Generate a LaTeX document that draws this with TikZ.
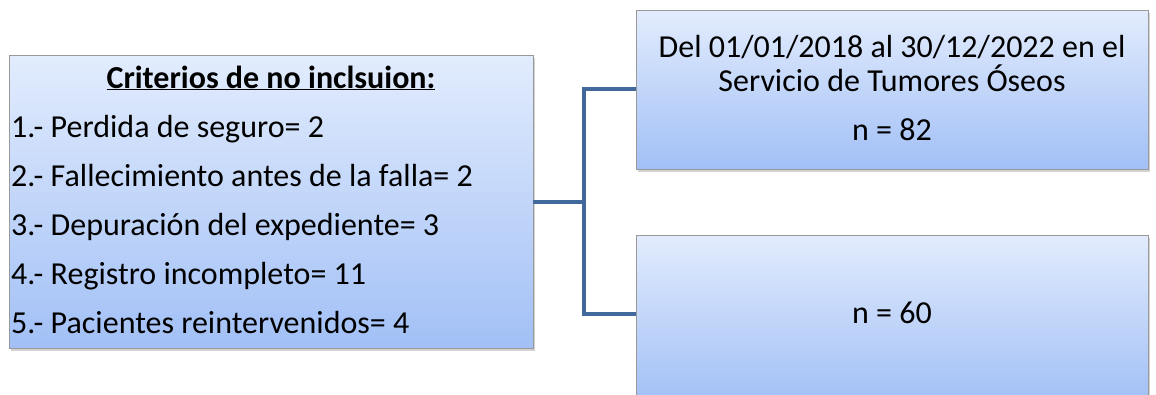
\documentclass[tikz,border=0pt]{standalone}
\usepackage{fontspec}
\setmainfont{Carlito}
\usetikzlibrary{positioning, shadows}

\definecolor{boxtop}{HTML}{E2ECFD}
\definecolor{boxbot}{HTML}{A2C0F6}
\definecolor{linkblue}{HTML}{41699B}

\tikzset{
    bluebox/.style={draw=gray!80, line width=0.8pt, top color=boxtop, bottom color=boxbot,
        drop shadow={shadow xshift=2pt, shadow yshift=-3pt, opacity=0.35}, inner sep=0pt},
    boxtext/.style={inner sep=0pt, font=\fontsize{32}{38}\selectfont},
    link/.style={draw=linkblue, line width=4pt}
}

\begin{document}
\begin{tikzpicture}[x=1pt, y=-1pt]
    \useasboundingbox (0,0) rectangle (1156,394);

    % boxes
    \node[bluebox, minimum width=524pt, minimum height=293pt] (criteria) at (271,201.5) {};
    \node[bluebox, minimum width=512pt, minimum height=159pt] (period)   at (892,89.5)  {};
    \node[bluebox, minimum width=512pt, minimum height=166pt] (sample)   at (892,318)   {};

    % texts
    \node[boxtext, anchor=base] (title) at (271,88) {\underline{\textbf{Criterios de no inclsuion:}}};
    \foreach \txt [count=\i] in {1.- Perdida de seguro= 2,
                                 2.- Fallecimiento antes de la falla= 2,
                                 3.- Depuración del expediente= 3,
                                 4.- Registro incompleto= 11,
                                 5.- Pacientes reintervenidos= 4}
        \node[boxtext, anchor=base west] (item\i) at (11,88+49*\i) {\txt};

    \node[boxtext, anchor=base] (range)   at (892,57)  {Del 01/01/2018 al 30/12/2022 en el};
    \node[boxtext, anchor=base] (service) at (892,91)  {Servicio de Tumores Óseos};
    \node[boxtext, anchor=base] (nfirst)  at (892,140) {n = 82};
    \node[boxtext, anchor=base] (nsecond) at (892,323) {n = 60};

    % connectors
    \coordinate (fork) at (584,202);
    \draw[link] (criteria.east |- fork) -- (fork);
    \draw[link] (period.west |- 0,89) -| (fork) |- (sample.west |- 0,314);
\end{tikzpicture}
\end{document}
